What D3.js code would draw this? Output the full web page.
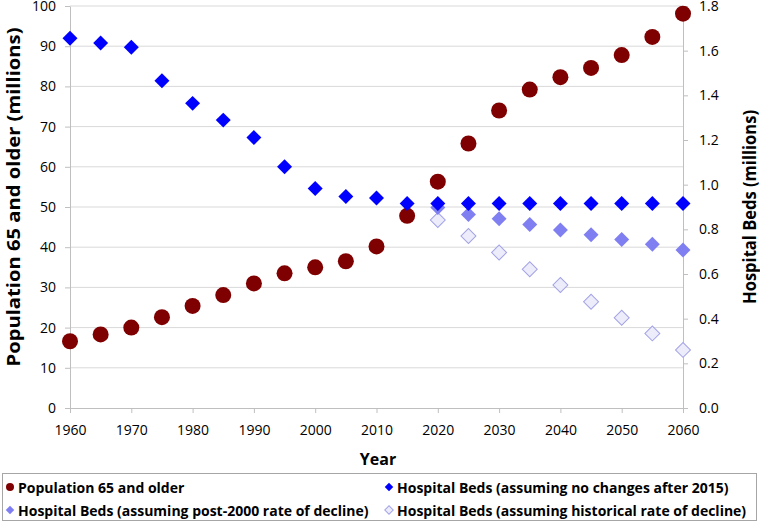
<!DOCTYPE html>
<html><head><meta charset="utf-8">
<script src="https://cdn.jsdelivr.net/npm/d3@7"></script>
<style>
body{margin:0;background:#fff;}
svg{display:block;font-family:"Open Sans",sans-serif;}
</style></head>
<body>
<svg id="c" width="760" height="526"></svg>
<script>
const years = [1960,1965,1970,1975,1980,1985,1990,1995,2000,2005,2010,2015,2020,2025,2030,2035,2040,2045,2050,2055,2060];
const population = [16.6,18.3,20.0,22.6,25.4,28.1,31.0,33.5,35.0,36.5,40.2,47.8,56.3,65.8,74.0,79.2,82.3,84.6,87.8,92.3,98.1];
const bedsNoChange = [1.656,1.634,1.615,1.465,1.364,1.289,1.211,1.080,0.983,0.947,0.940,0.916,0.916,0.916,0.916,0.916,0.916,0.916,0.916,0.916,0.916];
const projYears = [2020,2025,2030,2035,2040,2045,2050,2055,2060];
const bedsPost2000 = [0.898,0.866,0.847,0.822,0.797,0.776,0.754,0.733,0.707];
const bedsHistorical = [0.842,0.770,0.696,0.621,0.551,0.476,0.404,0.334,0.260];
const leftTicks = [0,10,20,30,40,50,60,70,80,90,100];
const rightTicks = [0,0.2,0.4,0.6,0.8,1.0,1.2,1.4,1.6,1.8];
const xTicks = [1960,1970,1980,1990,2000,2010,2020,2030,2040,2050,2060];
const legendLabels = ["Population 65 and older","Hospital Beds (assuming no changes after 2015)","Hospital Beds (assuming post-2000 rate of decline)","Hospital Beds (assuming historical rate of decline)"];

const svg = d3.select("#c");
const L=70, R=683, T=6, B=408;
const x = d3.scaleLinear().domain([1960,2060]).range([L,R]);
const yL = d3.scaleLinear().domain([0,100]).range([B,T]);
const yR = d3.scaleLinear().domain([0,1.8]).range([B,T]);

// gridlines
svg.append("g").selectAll("line").data(leftTicks.slice(1)).join("line")
  .attr("x1",L).attr("x2",R).attr("y1",d=>yL(d)).attr("y2",d=>yL(d))
  .attr("stroke","#d9d9d9").attr("stroke-width",1);

const tickStyle = g => {
  g.selectAll(".domain").attr("stroke","#bfbfbf");
  g.selectAll(".tick line").attr("stroke","#bfbfbf");
  g.selectAll("text").attr("fill","#000").style("font-size","14px").style("font-family","'Open Sans',sans-serif");
};
svg.append("g").attr("transform",`translate(${L},0)`)
  .call(d3.axisLeft(yL).tickValues(leftTicks).tickSize(5).tickSizeOuter(0).tickPadding(9))
  .call(tickStyle);
svg.append("g").attr("transform",`translate(${R},0)`)
  .call(d3.axisRight(yR).tickValues(rightTicks).tickFormat(d3.format(".1f")).tickSize(5).tickSizeOuter(0).tickPadding(11))
  .call(tickStyle);
svg.append("g").attr("transform",`translate(0,${B})`)
  .call(d3.axisBottom(x).tickValues(xTicks).tickFormat(d3.format("d")).tickSize(5).tickSizeOuter(0).tickPadding(12))
  .call(tickStyle);

// titles
svg.append("text").attr("transform",`translate(20,197) rotate(-90)`).attr("text-anchor","middle")
  .attr("textLength",339).attr("lengthAdjust","spacingAndGlyphs")
  .style("font-size","17px").style("font-weight","bold").text("Population 65 and older (millions)");
svg.append("text").attr("transform",`translate(756,207) rotate(-90)`).attr("text-anchor","middle")
  .attr("textLength",194).attr("lengthAdjust","spacingAndGlyphs")
  .style("font-size","17px").style("font-weight","bold").text("Hospital Beds (millions)");
svg.append("text").attr("x",378).attr("y",465).attr("text-anchor","middle")
  .style("font-size","16px").style("font-weight","bold").text("Year");

function drawDiamonds(xs, ys, fill, stroke){
  svg.append("g").selectAll("path").data(xs).join("path")
    .attr("d", d3.symbol().type(d3.symbolSquare).size(112)())
    .attr("transform",(d,i)=>`translate(${x(d)},${yR(ys[i])}) rotate(45)`)
    .attr("fill",fill).attr("stroke",stroke||"none").attr("stroke-width",1);
}
// series
svg.append("g").selectAll("circle").data(years).join("circle")
  .attr("cx",d=>x(d)).attr("cy",(d,i)=>yL(population[i])).attr("r",8).attr("fill","#7f0000");
drawDiamonds(projYears, bedsHistorical, "#ececfb", "#a3a3e6");
drawDiamonds(projYears, bedsPost2000, "#7f7ff2", null);
drawDiamonds(years, bedsNoChange, "#0000ff", null);

// legend
svg.append("rect").attr("x",2.5).attr("y",473.5).attr("width",754).attr("height",47)
  .attr("fill","#fff").attr("stroke","#a6a6a6").attr("stroke-width",1);
const legItems = [
  {lab:legendLabels[0], lx:10, ly:487, kind:"c", fill:"#7f0000"},
  {lab:legendLabels[1], lx:389, ly:487, kind:"d", fill:"#0000ff"},
  {lab:legendLabels[2], lx:10, ly:510, kind:"d", fill:"#7f7ff2"},
  {lab:legendLabels[3], lx:389, ly:510, kind:"d", fill:"#ececfb", stroke:"#a3a3e6"}
];
legItems.forEach(it=>{
  if(it.kind==="c") svg.append("circle").attr("cx",it.lx).attr("cy",it.ly).attr("r",4).attr("fill",it.fill);
  else svg.append("path").attr("d",d3.symbol().type(d3.symbolSquare).size(36)())
    .attr("transform",`translate(${it.lx},${it.ly}) rotate(45)`).attr("fill",it.fill).attr("stroke",it.stroke||"none");
  svg.append("text").attr("x",it.lx+8).attr("y",it.ly+5.5).style("font-size","14px").style("font-weight","bold").text(it.lab);
});
</script>
</body></html>
